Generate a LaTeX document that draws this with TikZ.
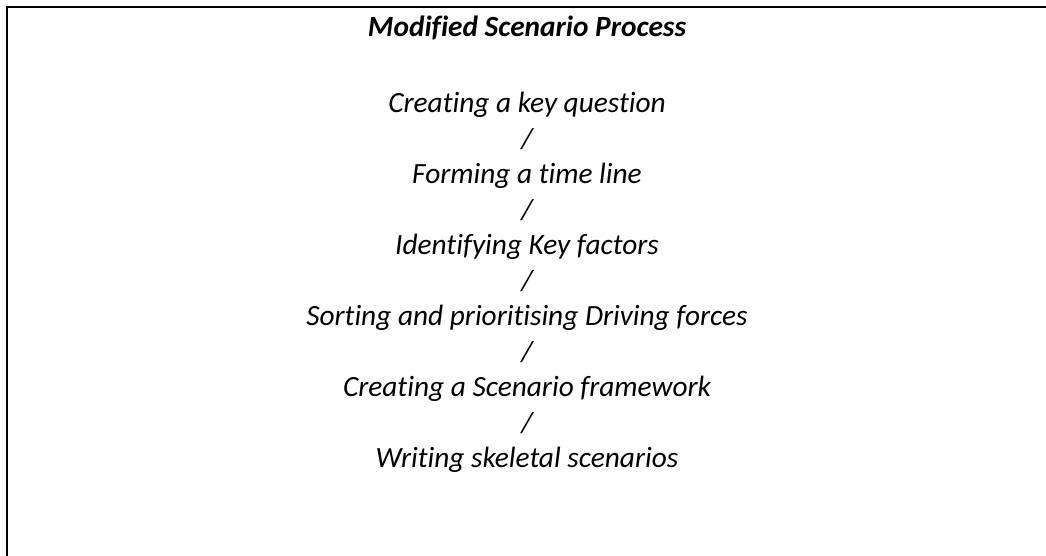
\documentclass[tikz,border=0pt]{standalone}
\usepackage{fontspec}
\setmainfont{Carlito}[Ligatures={NoCommon}]
\usetikzlibrary{positioning}
\tikzset{
  stage/.style={font=\fontsize{22}{26}\selectfont\itshape, inner sep=0pt, text height=15pt, text depth=5pt},
  heading/.style={stage, font=\fontsize{22}{26}\selectfont\bfseries\itshape},
  frame/.style={line width=2pt, draw=black},
  node distance=6.25pt
}
\begin{document}
\begin{tikzpicture}[x=0.75pt, y=0.75pt]
	\useasboundingbox (0,0) rectangle (1046,-556);
	\draw[frame] (7,-556) |- (1046,-7);
	\node[heading, anchor=base] (title) at (527,-37) {Modified Scenario Process};
	\node[stage, below=36.25pt of title] (question) {Creating a key question};
	\node[stage, below=of question] (sepa) {/};
	\node[stage, below=of sepa] (timeline) {Forming a time line};
	\node[stage, below=of timeline] (sepb) {/};
	\node[stage, below=of sepb] (factors) {Identifying Key factors};
	\node[stage, below=of factors] (sepc) {/};
	\node[stage, below=of sepc] (forces) {Sorting and prioritising Driving forces};
	\node[stage, below=of forces] (sepd) {/};
	\node[stage, below=of sepd] (framework) {Creating a Scenario framework};
	\node[stage, below=of framework] (sepe) {/};
	\node[stage, below=of sepe] (skeletal) {Writing skeletal scenarios};
\end{tikzpicture}
\end{document}
